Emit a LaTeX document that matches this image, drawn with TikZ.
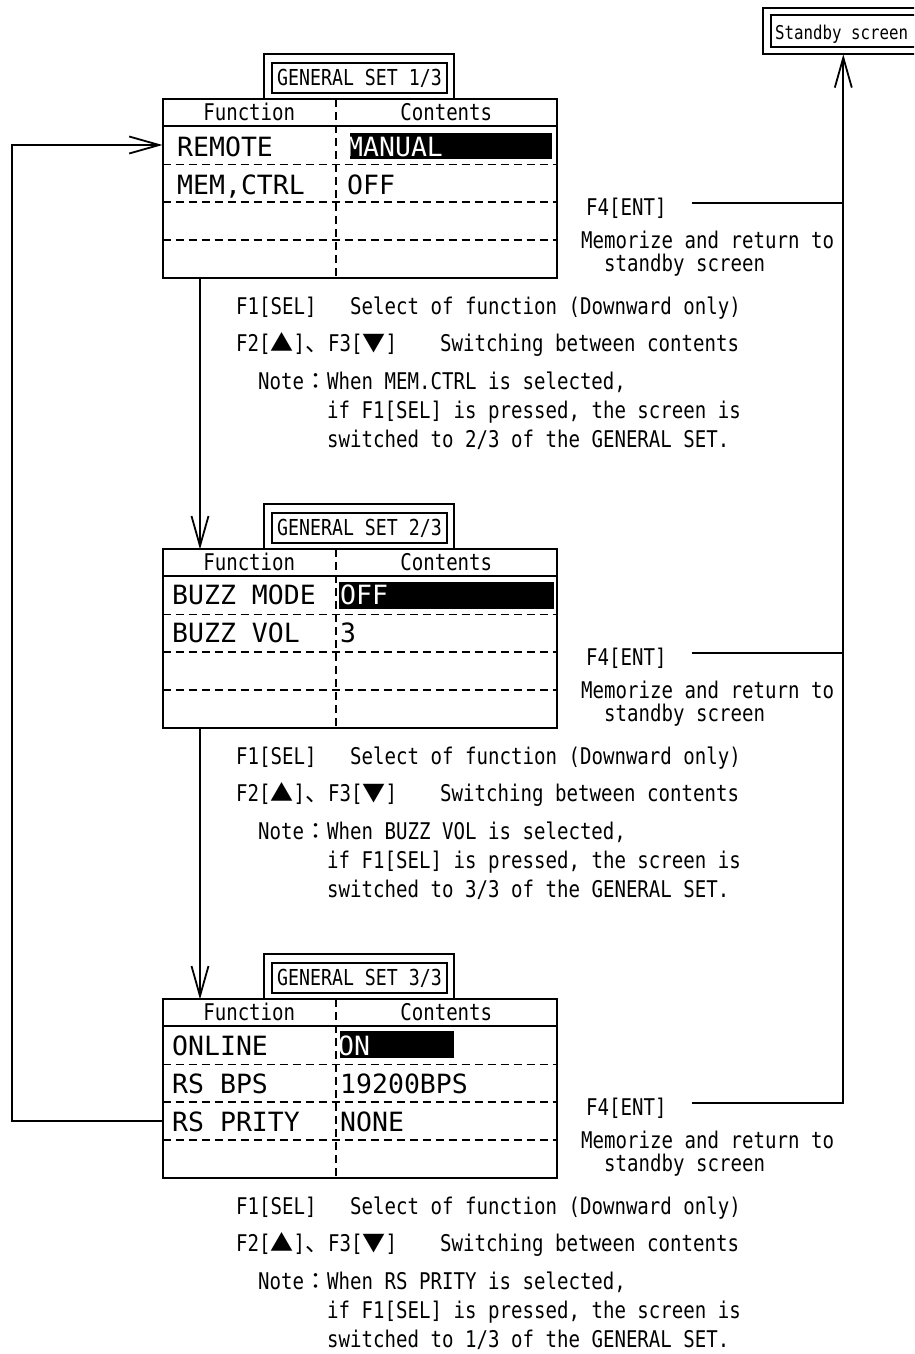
\documentclass[tikz,border=0pt]{standalone}
\usepackage{fontspec}
\usetikzlibrary{arrows.meta,calc}
\newfontfamily\RowFam{DejaVu Sans Mono}
\newfontfamily\SmFam[FakeStretch=0.83]{DejaVu Sans Mono}
\newfontfamily\CjkFam{Noto Sans CJK JP}
\newcommand\RowFont{\RowFam\fontsize{26.5}{30}\selectfont}
\newcommand\SmFont{\SmFam\fontsize{23}{27}\selectfont}
\newcommand\TtFont{\SmFam\fontsize{22}{26}\selectfont}
\newcommand\SbFont{\SmFam\fontsize{19}{22}\selectfont}
\newcommand\cj[1]{{\CjkFam #1}}
\tikzset{
 scr/.style={draw, line width=2pt, minimum width=394pt, minimum height=178.4pt, inner sep=0pt, outer sep=0pt},
 sm/.style={font=\SmFont, inner sep=0pt, anchor=base west},
 smc/.style={font=\SmFont, inner sep=0pt, anchor=base},
 ttl/.style={font=\TtFont, inner sep=0pt, anchor=base},
 rowt/.style={font=\RowFont, inner sep=0pt, anchor=base west},
 hl/.style={font=\RowFont, inner sep=0pt, anchor=base west, text=white},
 dsh/.style={line width=1.6pt, dash pattern=on 8pt off 5pt},
 sol/.style={line width=1.8pt},
 thk/.style={line width=2pt},
 arr/.style={line width=1.8pt, -{Straight Barb[length=30pt,width=17pt]}},
}
\newcommand\ScreenFrame[3]{%
 \begin{scope}[shift={(0,#2)}]
 \node[scr] (#1) at (359.5,188.5) {};
 \draw[sol] (162.5,126) -- (556.5,126);
 \foreach \yy in {164.3,201.7,240}{\draw[dsh] (162.5,\yy) -- (556.5,\yy);}
 \draw[dsh] (336,99.3) -- (336,277.7);
 \draw[thk] (264.3,99.3) -- (264.3,54) -- (454,54) -- (454,99.3);
 \draw[thk] (272.3,62.7) rectangle (446.7,92.7);
 \node[ttl] (#1t) at (359.5,85) {#3};
 \node[smc] (#1f) at (249.25,120.7) {Function};
 \node[smc] (#1c) at (446.25,120.7) {Contents};
 \end{scope}}
\newcommand\NoteBlock[4]{%
 \begin{scope}[shift={(0,#2)}]
 \node[sm] (#1a) at (236,314.3) {\makebox[114pt][l]{F1[SEL]}Select of function (Downward only)};
 \node[sm] (#1b) at (236,351.7) {\makebox[204pt][l]{F2[\cj{▲}]\cj{、}F3[\cj{▼}]}Switching between contents};
 \node[sm] (#1c) at (258,389) {Note\cj{：}When #3 is selected,};
 \node[sm] (#1d) at (327,418.3) {if F1[SEL] is pressed, the screen is};
 \node[sm] (#1e) at (327,447.3) {switched to #4 of the GENERAL SET.};
 \end{scope}}
\newcommand\EntBlock[2]{%
 \begin{scope}[shift={(0,#2)}]
 \node[sm] (#1a) at (586,215) {F4[ENT]};
 \node[sm] (#1b) at (581,248.3) {Memorize and return to};
 \node[sm] (#1c) at (604,271.7) {standby screen};
 \coordinate (#1e) at (691.7,202.7);
 \end{scope}}
\begin{document}
\begin{tikzpicture}[x=1pt,y=-1pt]
\useasboundingbox (0,0) rectangle (914,1354);
\clip (0,0) rectangle (914,1354);
% highlight bars
\fill (350,133.3) rectangle (552,159);
\fill (339,581.7) rectangle (554,609);
\fill (340,1030.7) rectangle (454,1058);
% screens
\ScreenFrame{s1}{0}{GENERAL SET 1/3}
\ScreenFrame{s2}{450}{GENERAL SET 2/3}
\ScreenFrame{s3}{900}{GENERAL SET 3/3}
% screen 1 rows
\node[rowt] (s1r1) at (177,156.7) {REMOTE};
\node[rowt] (s1r2) at (177,194) {MEM,CTRL};
\node[hl] (s1v1) at (347,156.7) {MANUAL};
\node[rowt] (s1v2) at (347,194) {OFF};
% screen 2 rows
\node[rowt] (s2r1) at (172,604.5) {BUZZ MODE};
\node[rowt] (s2r2) at (172,642.5) {BUZZ VOL};
\node[hl] (s2v1) at (340,604.5) {OFF};
\node[rowt] (s2v2) at (340,642.5) {3};
% screen 3 rows
\node[rowt] (s3r1) at (172,1055) {ONLINE};
\node[rowt] (s3r2) at (172,1093.3) {RS BPS};
\node[rowt] (s3r3) at (172,1131) {RS PRITY};
\node[hl] (s3v1) at (338,1055) {ON};
\node[rowt] (s3v2) at (340,1093.3) {19200BPS};
\node[rowt] (s3v3) at (340,1131) {NONE};
% notes
\NoteBlock{n1}{0}{MEM.CTRL}{2/3}
\NoteBlock{n2}{450}{BUZZ VOL}{3/3}
\NoteBlock{n3}{900}{RS PRITY}{1/3}
\EntBlock{f1}{0}
\EntBlock{f2}{450}
\EntBlock{f3}{900}
% standby screen
\node[draw, thk, minimum width=160pt, minimum height=46pt, inner sep=0pt, outer sep=0pt] (sb) at (843.3,31.3) {};
\draw[thk] ($(sb.north west)+(7.7,6.7)$) rectangle ($(sb.south east)+(-6,-7.6)$);
\node[font=\SbFont, inner sep=0pt, anchor=base west] (sbt) at (775,39.3) {Standby screen};
% connectors
\coordinate (lx) at (12,0);
\coordinate (p1) at (0,145);
\coordinate (p3) at (0,1120.7);
\coordinate (dx) at (200,0);
\draw[arr] (s3.west |- p3) -- (lx |- p3) -- (lx |- p1) -- (s1.west |- p1);
\draw[arr] (s1.south -| dx) -- (s2.north -| dx);
\draw[arr] (s2.south -| dx) -- (s3.north -| dx);
\draw[sol] (f1e) -- (f1e -| sb.south);
\draw[sol] (f2e) -- (f2e -| sb.south);
\draw[arr] (f3e) -| (sb.south);
\end{tikzpicture}
\end{document}
